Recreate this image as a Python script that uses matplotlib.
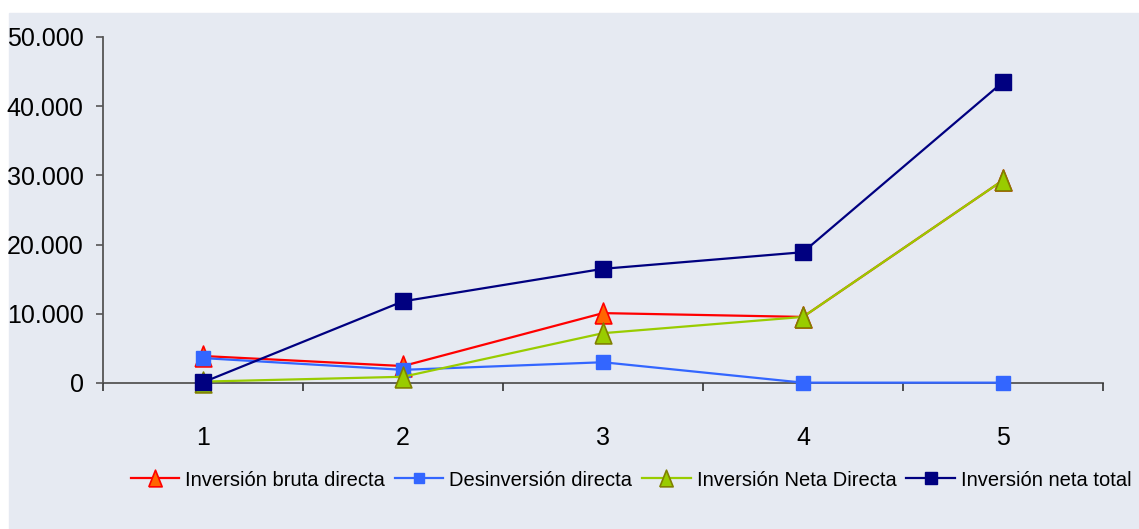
import matplotlib
matplotlib.use("Agg")
import matplotlib.pyplot as plt
from matplotlib.patches import Rectangle
from matplotlib.ticker import FixedLocator, FuncFormatter, NullFormatter

periodos = [1, 2, 3, 4, 5]
bruta_directa = [3900, 2450, 10100, 9550, 29300]
desinversion = [3600, 1900, 3000, 50, 50]
neta_directa = [200, 900, 7200, 9550, 29300]
neta_total = [100, 11800, 16500, 18900, 43500]

series = ["Inversión bruta directa", "Desinversión directa",
          "Inversión Neta Directa", "Inversión neta total"]

plt.rcParams["font.family"] = ["Liberation Sans", "DejaVu Sans"]

# triangulo algo mas alto que ancho, como en Excel
tri = [(-0.8, -1), (0.8, -1), (0, 1), (-0.8, -1)]

W, H = 1139, 529
fig = plt.figure(figsize=(W / 100, H / 100), dpi=100, facecolor="white")
bg = "#e6eaf2"
fig.patches.append(Rectangle((9 / W, 0), 1 - 9 / W, 1 - 13 / H,
                             transform=fig.transFigure, color=bg, zorder=-10))

ax = fig.add_axes([103 / W, 1 - 383 / H, 1000 / W, 346 / H])
ax.set_zorder(2)
ax.patch.set_alpha(0)

ax.plot(periodos, bruta_directa, color="#ff0000", lw=1.6, marker=tri, ms=15,
        mfc="#ff6600", mec="#ff0000", mew=1.2, label=series[0], clip_on=False)
ax.plot(periodos, desinversion, color="#3366ff", lw=1.6, marker="s", ms=9.5,
        mfc="#3366ff", mec="#3366ff", label=series[1], clip_on=False)
ax.plot(periodos, neta_directa, color="#99cc00", lw=1.6, marker=tri, ms=15,
        mfc="#99cc00", mec="#808000", mew=1.2, label=series[2], clip_on=False)
ax.plot(periodos, neta_total, color="#000080", lw=1.6, marker="s", ms=11.5,
        mfc="#000080", mec="#000080", label=series[3], clip_on=False)

ax.set_xlim(0.5, 5.5)
ax.set_ylim(0, 50000)
ax.set_yticks(range(0, 50001, 10000))
ax.yaxis.set_major_formatter(FuncFormatter(lambda v, p: f"{int(v):,}".replace(",", ".")))

ax.xaxis.set_major_locator(FixedLocator([0.5, 1.5, 2.5, 3.5, 4.5, 5.5]))
ax.xaxis.set_major_formatter(NullFormatter())
ax.xaxis.set_minor_locator(FixedLocator(periodos))
ax.set_xticklabels([str(p) for p in periodos], minor=True)

for s in ["top", "right"]:
    ax.spines[s].set_visible(False)
for s in ["left", "bottom"]:
    ax.spines[s].set_color("#555555")
    ax.spines[s].set_linewidth(1.3)
    ax.spines[s].set_zorder(0)

ax.tick_params(axis="y", direction="out", length=5, width=1.2, color="#555555",
               labelsize=18, pad=9)
ax.tick_params(axis="x", which="major", direction="out", length=6, width=1.2,
               color="#333333")
ax.tick_params(axis="x", which="minor", length=0, labelsize=18, pad=31)

leg = fig.legend(loc="center", bbox_to_anchor=(631 / W, 1 - 480 / H), ncol=4,
                 frameon=False, fontsize=14.5,
                 handlelength=2.4, handletextpad=0.3, columnspacing=0.5,
                 markerscale=0.8)

fig.savefig("out.png", dpi=100, facecolor="white")
